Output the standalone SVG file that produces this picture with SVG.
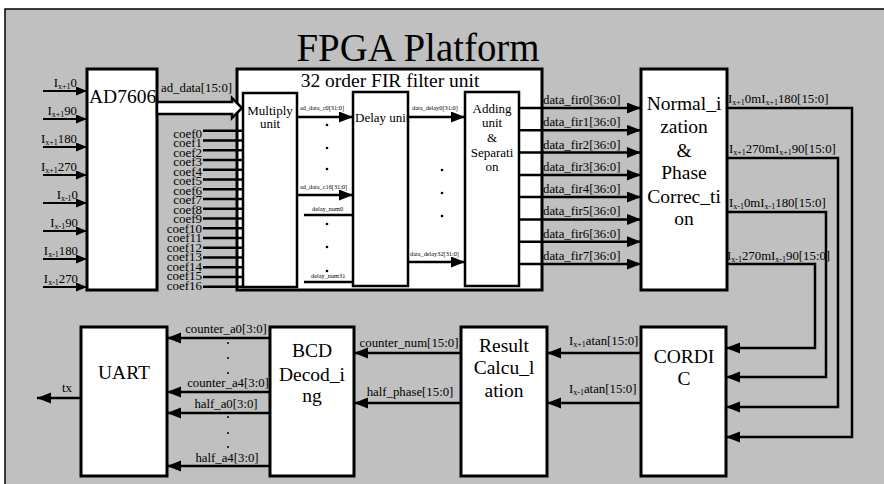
<svg xmlns="http://www.w3.org/2000/svg" width="884" height="484" viewBox="0 0 884 484" font-family="'Liberation Serif', 'DejaVu Serif', serif">
  <defs>
    <marker id="arr" markerUnits="userSpaceOnUse" markerWidth="16" markerHeight="12" refX="14" refY="5.5" orient="auto">
      <path d="M0,0 L14,5.5 L0,11 z" fill="#000"/>
    </marker>
    <marker id="arrS" markerUnits="userSpaceOnUse" markerWidth="13" markerHeight="10" refX="11" refY="4.5" orient="auto">
      <path d="M0,0 L11,4.5 L0,9 z" fill="#000"/>
    </marker>
  </defs>
  <style>
    text { font-family: 'Liberation Serif', 'DejaVu Serif', serif; fill: #000; }
    .box { fill: #fff; stroke: #000; stroke-width: 3; }
    .ibox { fill: #fff; stroke: #000; stroke-width: 2.5; }
    .big { font-size: 19.5px; text-anchor: middle; }
    .mid { font-size: 13px; text-anchor: middle; }
    .lbl { font-size: 12.8px; }
    .tiny { font-size: 6.3px; }
    .w { fill: none; stroke: #000; stroke-width: 2.5; }
    .wi { fill: none; stroke: #000; stroke-width: 2; }
    .dot { fill: #000; }
  </style>

  <!-- platform frame -->
  <rect x="5" y="9" width="880" height="476" fill="#c0c0c0" stroke="#000" stroke-width="1.5"/>
  <text x="418" y="61" font-size="41" text-anchor="middle" textLength="243" lengthAdjust="spacingAndGlyphs">FPGA Platform</text>

  <!-- ADC -->
  <g id="ad7606">
    <rect class="box" x="87" y="69" width="70" height="221"/>
    <text x="89" y="103" font-size="19.5">AD7606</text>
  </g>

  <!-- FIR filter unit with its sub-blocks -->
  <g id="fir">
    <rect class="box" x="237" y="69" width="305" height="221"/>
    <text class="big" x="390" y="87">32 order FIR filter unit</text>
  </g>
  <g id="multiply">
    <rect class="ibox" x="243" y="93" width="54" height="194"/>
    <text class="mid" x="270" y="115">Multiply</text>
    <text class="mid" x="270" y="128">unit</text>
  </g>
  <g id="delay">
    <rect class="ibox" x="353" y="92" width="55" height="194"/>
    <text x="355" y="122" font-size="13">Delay unit</text>
  </g>
  <g id="adding">
    <rect class="ibox" x="465" y="92" width="54" height="194"/>
    <text class="mid" x="492" y="113">Adding</text>
    <text class="mid" x="492" y="127">unit</text>
    <text class="mid" x="492" y="142">&amp;</text>
    <text class="mid" x="492" y="157">Separati</text>
    <text class="mid" x="492" y="171">on</text>
  </g>

  <g id="normalization">
    <rect class="box" x="641" y="69" width="86" height="221"/>
    <text class="big" x="684" y="110">Normal_i</text>
    <text class="big" x="684" y="133">zation</text>
    <text class="big" x="684" y="157">&amp;</text>
    <text class="big" x="684" y="179">Phase</text>
    <text class="big" x="684" y="203">Correc_ti</text>
    <text class="big" x="684" y="225">on</text>
  </g>

  <g id="cordic">
    <rect class="box" x="641" y="327" width="85" height="149"/>
    <text class="big" x="684" y="363">CORDI</text>
    <text class="big" x="684" y="385">C</text>
  </g>

  <g id="result">
    <rect class="box" x="461" y="327" width="86" height="149"/>
    <text class="big" x="504" y="352">Result</text>
    <text class="big" x="504" y="374">Calcu_l</text>
    <text class="big" x="504" y="397">ation</text>
  </g>

  <g id="bcd">
    <rect class="box" x="270" y="327" width="84" height="149"/>
    <text class="big" x="312" y="357">BCD</text>
    <text class="big" x="312" y="381">Decod_i</text>
    <text class="big" x="312" y="402">ng</text>
  </g>

  <g id="uart">
    <rect class="box" x="81" y="327" width="86" height="149"/>
    <text class="big" x="124" y="379">UART</text>
  </g>

  <g id="connectors">
    <!-- analog inputs to the ADC -->
    <g class="wi" marker-end="url(#arrS)">
      <path d="M43,91 H87"/><path d="M43,119 H87"/><path d="M43,147 H87"/><path d="M43,175 H87"/>
      <path d="M43,203 H87"/><path d="M43,231 H87"/><path d="M43,259 H87"/><path d="M43,287 H87"/>
    </g>
    <g class="lbl" text-anchor="end">
      <text x="77" y="87">I<tspan font-size="8" dy="2">x+1</tspan><tspan dy="-2">0</tspan></text>
      <text x="77" y="115">I<tspan font-size="8" dy="2">x+1</tspan><tspan dy="-2">90</tspan></text>
      <text x="77" y="143">I<tspan font-size="8" dy="2">x+1</tspan><tspan dy="-2">180</tspan></text>
      <text x="77" y="171">I<tspan font-size="8" dy="2">x+1</tspan><tspan dy="-2">270</tspan></text>
      <text x="78" y="199">I<tspan font-size="8" dy="2">x-1</tspan><tspan dy="-2">0</tspan></text>
      <text x="78" y="227">I<tspan font-size="8" dy="2">x-1</tspan><tspan dy="-2">90</tspan></text>
      <text x="78" y="255">I<tspan font-size="8" dy="2">x-1</tspan><tspan dy="-2">180</tspan></text>
      <text x="78" y="283">I<tspan font-size="8" dy="2">x-1</tspan><tspan dy="-2">270</tspan></text>
    </g>

    <!-- ADC data bus -->
    <polygon points="157,102 232,102 232,98 242,108 232,118 232,114 157,114" fill="#fff" stroke="#000" stroke-width="2.5" stroke-linejoin="miter"/>
    <text class="lbl" x="161" y="92">ad_data[15:0]</text>

    <!-- filter coefficients -->
    <g class="w">
      <path d="M203,130.7 H243"/><path d="M203,140.4 H243"/><path d="M203,150.2 H243"/><path d="M203,159.9 H243"/>
      <path d="M203,169.7 H243"/><path d="M203,179.4 H243"/><path d="M203,189.2 H243"/><path d="M203,198.9 H243"/>
      <path d="M203,208.7 H243"/><path d="M203,218.4 H243"/><path d="M203,228.2 H243"/><path d="M203,237.9 H243"/>
      <path d="M203,247.7 H243"/><path d="M203,257.4 H243"/><path d="M203,267.2 H243"/><path d="M203,276.9 H243"/>
      <path d="M203,286.7 H243"/>
    </g>
    <g font-size="13px" text-anchor="end">
      <text x="202" y="137.5">coef0</text><text x="202" y="147">coef1</text><text x="202" y="156.5">coef2</text>
      <text x="202" y="166">coef3</text><text x="202" y="175.5">coef4</text><text x="202" y="185">coef5</text>
      <text x="202" y="194.5">coef6</text><text x="202" y="204">coef7</text><text x="202" y="213.5">coef8</text>
      <text x="202" y="223">coef9</text><text x="202" y="232.5">coef10</text><text x="202" y="242">coef11</text>
      <text x="202" y="251.5">coef12</text><text x="202" y="261">coef13</text><text x="202" y="270.5">coef14</text>
      <text x="202" y="280">coef15</text><text x="202" y="289.5">coef16</text>
    </g>

    <!-- multiply to delay -->
    <g class="w" marker-end="url(#arr)">
      <path d="M297,117 H353"/><path d="M297,195 H353"/>
    </g>
    <g class="w">
      <path d="M304,215 H353"/><path d="M304,282 H353"/>
    </g>
    <g class="tiny">
      <text x="300" y="110">ad_data_c0[31:0]</text>
      <text x="300" y="189">ad_data_c16[31:0]</text>
      <text x="312" y="211">delay_num0</text>
      <text x="311" y="278">delay_num31</text>
      <text x="412" y="110">data_delay0[31:0]</text>
      <text x="410" y="256">data_delay32[31:0]</text>
    </g>
    <g class="dot">
      <circle cx="327" cy="125" r="1.3"/><circle cx="327" cy="148" r="1.3"/><circle cx="327" cy="169" r="1.3"/>
      <circle cx="327" cy="224" r="1.3"/><circle cx="327" cy="247" r="1.3"/><circle cx="327" cy="271" r="1.3"/>
      <circle cx="442" cy="170" r="1.3"/><circle cx="442" cy="193" r="1.3"/><circle cx="442" cy="216" r="1.3"/>
    </g>

    <!-- delay to adding -->
    <g class="w" marker-end="url(#arr)">
      <path d="M408,117 H465"/><path d="M408,262 H465"/>
    </g>

    <!-- filter outputs -->
    <g class="w" marker-end="url(#arr)">
      <path d="M519,108 H641"/><path d="M519,130.3 H641"/><path d="M519,152.6 H641"/><path d="M519,174.9 H641"/>
      <path d="M519,197.1 H641"/><path d="M519,219.4 H641"/><path d="M519,241.7 H641"/><path d="M519,264 H641"/>
    </g>
    <g class="lbl">
      <text x="543" y="104">data_fir0[36:0]</text>
      <text x="543" y="126.3">data_fir1[36:0]</text>
      <text x="543" y="148.6">data_fir2[36:0]</text>
      <text x="543" y="170.9">data_fir3[36:0]</text>
      <text x="543" y="193.1">data_fir4[36:0]</text>
      <text x="543" y="215.4">data_fir5[36:0]</text>
      <text x="543" y="237.7">data_fir6[36:0]</text>
      <text x="543" y="260">data_fir7[36:0]</text>
    </g>

    <!-- normalized signals to CORDIC -->
    <g class="w" marker-end="url(#arr)">
      <path d="M727,108 H852 V437 H726"/>
      <path d="M727,158 H838 V407 H726"/>
      <path d="M727,212 H826 V377 H726"/>
      <path d="M727,264 H815 V348 H726"/>
    </g>
    <g class="lbl">
      <text x="728" y="103">I<tspan font-size="8" dy="2">x+1</tspan><tspan dy="-2">0mI</tspan><tspan font-size="8" dy="2">x+1</tspan><tspan dy="-2">180[15:0]</tspan></text>
      <text x="729" y="153">I<tspan font-size="8" dy="2">x+1</tspan><tspan dy="-2">270mI</tspan><tspan font-size="8" dy="2">x+1</tspan><tspan dy="-2">90[15:0]</tspan></text>
      <text x="729" y="207">I<tspan font-size="8" dy="2">x-1</tspan><tspan dy="-2">0mI</tspan><tspan font-size="8" dy="2">x-1</tspan><tspan dy="-2">180[15:0]</tspan></text>
      <text x="727" y="260">I<tspan font-size="8" dy="2">x-1</tspan><tspan dy="-2">270mI</tspan><tspan font-size="8" dy="2">x-1</tspan><tspan dy="-2">90[15:0]</tspan></text>
    </g>

    <!-- CORDIC to result -->
    <g class="w" marker-end="url(#arr)">
      <path d="M641,353 H547"/><path d="M641,403 H547"/>
    </g>
    <g class="lbl">
      <text x="569" y="345">I<tspan font-size="8" dy="2">x+1</tspan><tspan dy="-2">atan[15:0]</tspan></text>
      <text x="569" y="393">I<tspan font-size="8" dy="2">x-1</tspan><tspan dy="-2">atan[15:0]</tspan></text>
    </g>

    <!-- result to BCD -->
    <g class="w" marker-end="url(#arr)">
      <path d="M461,353 H354"/><path d="M461,403 H354"/>
    </g>
    <g class="lbl" text-anchor="middle">
      <text x="409" y="347">counter_num[15:0]</text>
      <text x="410" y="396">half_phase[15:0]</text>
    </g>

    <!-- BCD to UART -->
    <g class="w" marker-end="url(#arr)">
      <path d="M270,338 H167"/><path d="M270,392 H167"/><path d="M270,413 H167"/><path d="M270,466 H167"/>
    </g>
    <g class="lbl" text-anchor="middle">
      <text x="226" y="333">counter_a0[3:0]</text>
      <text x="228" y="387">counter_a4[3:0]</text>
      <text x="226" y="408">half_a0[3:0]</text>
      <text x="227" y="462">half_a4[3:0]</text>
    </g>
    <g class="dot">
      <circle cx="228" cy="343" r="1"/><circle cx="228" cy="358" r="1"/><circle cx="228" cy="373" r="1"/>
      <circle cx="228" cy="417" r="1"/><circle cx="228" cy="433" r="1"/><circle cx="228" cy="447" r="1"/>
    </g>

    <!-- serial output -->
    <path class="w" d="M81,398 H37" marker-end="url(#arr)"/>
    <text class="lbl" x="67" y="392" text-anchor="middle">tx</text>
  </g>
</svg>
